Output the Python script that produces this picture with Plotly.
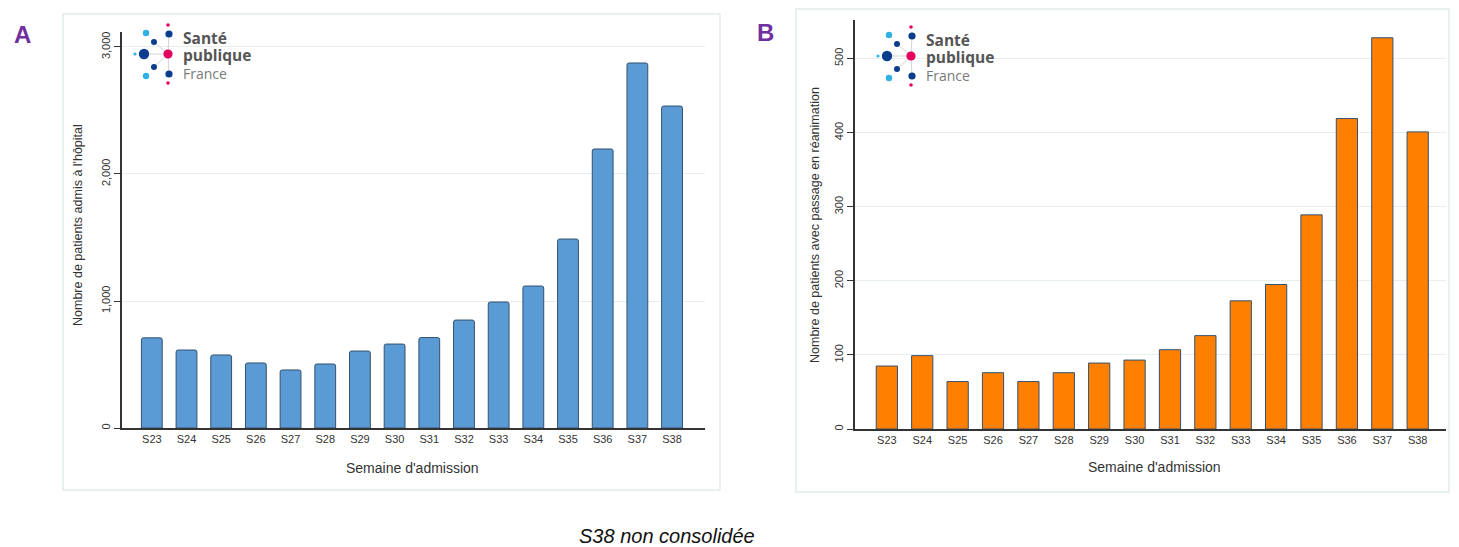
"""Weekly hospital and ICU admissions, two bar panels side by side."""

import plotly.graph_objects as go

# the page body has an 8px margin, so everything is placed 8px up/left
OFF = 8
W, H = 1459, 547 - OFF

weeks = ["S23", "S24", "S25", "S26", "S27", "S28", "S29", "S30",
         "S31", "S32", "S33", "S34", "S35", "S36", "S37", "S38"]
hospital = [710, 614, 575, 512, 457, 504, 606, 661,
            712, 850, 992, 1118, 1488, 2197, 2874, 2535]
icu = [85, 99, 64, 76, 64, 76, 89, 93,
       107, 126, 173, 195, 289, 419, 528, 401]

FONT = "Liberation Sans, Arial, sans-serif"
GRID = "#E6EEF0"
AXIS = "#333333"
EDGE = "#34506E"


def px_x(x):
    return (x - OFF) / W


def px_y(y):
    return 1 - (y - OFF) / H


def add_logo(fig, cx, cy):
    """Draw the Santé publique France mark around the pink centre dot (pixels)."""
    dark, pink, light = "#0B3D8F", "#E5005F", "#2EB2E6"
    dots = [
        (-22, -21, 3.2, light), (1, -20, 3.6, dark), (0, -29, 1.8, pink),
        (-14, -12, 3.0, dark), (-24, 0, 5.2, dark), (-33, 0, 1.6, light),
        (0, 0, 4.6, pink), (-14, 13, 3.0, dark), (-22, 22, 3.2, light),
        (1, 20, 3.6, dark), (0, 29, 1.8, pink),
    ]
    for dx, dy in [(1, -20), (1, 20), (-24, 0), (-14, -12), (-14, 13)]:
        fig.add_shape(type="line", xref="paper", yref="paper",
                      x0=px_x(cx), y0=px_y(cy), x1=px_x(cx + dx), y1=px_y(cy + dy),
                      line=dict(color="#D4D4D4", width=1))
    for dx, dy, r, col in dots:
        fig.add_shape(type="circle", xref="paper", yref="paper",
                      x0=px_x(cx + dx - r), x1=px_x(cx + dx + r),
                      y0=px_y(cy + dy + r), y1=px_y(cy + dy - r),
                      fillcolor=col, line=dict(width=0))
    for txt, dy, size, col, bold in [("Santé", -16, 15.5, "#555555", True),
                                     ("publique", 1, 15.5, "#555555", True),
                                     ("France", 19, 14, "#7A7A7A", False)]:
        fig.add_annotation(xref="paper", yref="paper", x=px_x(cx + 13), y=px_y(cy + dy),
                           xanchor="left", yanchor="middle", showarrow=False,
                           text=f"<b>{txt}</b>" if bold else txt,
                           font=dict(family="Open Sans, Roboto, sans-serif", size=size, color=col))


fig = go.Figure()

fig.add_trace(go.Bar(x=weeks, y=hospital, xaxis="x", yaxis="y",
                     marker=dict(color="#5B9BD5", line=dict(color=EDGE, width=1), cornerradius=2),
                     width=0.6, hoverinfo="x+y"))
fig.add_trace(go.Bar(x=weeks, y=icu, xaxis="x2", yaxis="y2",
                     marker=dict(color="#FF8000", line=dict(color=EDGE, width=1)),
                     width=0.6, hoverinfo="x+y"))

xcommon = dict(showgrid=False, zeroline=False, showline=True, linecolor=AXIS, linewidth=1.5,
               ticks="", tickfont=dict(family=FONT, size=11, color=AXIS), fixedrange=True)
ycommon = dict(showgrid=True, gridcolor=GRID, gridwidth=1, zeroline=False, showline=True,
               linecolor=AXIS, linewidth=1.5, ticks="outside", ticklen=6, tickcolor=AXIS,
               tickangle=-90, tickfont=dict(family=FONT, size=11, color=AXIS))

fig.update_layout(
    width=W, height=H,
    margin=dict(l=0, r=0, t=0, b=0),
    paper_bgcolor="white", plot_bgcolor="white",
    showlegend=False,
    font=dict(family=FONT, color=AXIS),
    xaxis=dict(xcommon, domain=[px_x(122), px_x(705)], range=[-0.86, 15.95], anchor="y"),
    yaxis=dict(ycommon, domain=[px_y(428), px_y(32)], range=[0, 3118], anchor="x",
               tickvals=[0, 1000, 2000, 3000], tickformat=",d"),
    xaxis2=dict(xcommon, domain=[px_x(855), px_x(1446)], range=[-0.9, 15.8], anchor="y2"),
    yaxis2=dict(ycommon, domain=[px_y(429), px_y(20)], range=[0, 552], anchor="x2",
                tickvals=[0, 100, 200, 300, 400, 500]),
)

# panel frames
for x0, y0, x1, y1 in [(63, 14, 720, 490), (796, 9, 1449, 492)]:
    fig.add_shape(type="rect", xref="paper", yref="paper",
                  x0=px_x(x0), y0=px_y(y1), x1=px_x(x1), y1=px_y(y0),
                  line=dict(color="#E3EAEA", width=1.5), layer="below")

notes = [
    (px_x(22), px_y(35), "<b>A</b>", 24, "#7030A0", 0),
    (px_x(765), px_y(32), "<b>B</b>", 24, "#7030A0", 0),
    (px_x(412), px_y(468), "Semaine d'admission", 14, AXIS, 0),
    (px_x(1154), px_y(467), "Semaine d'admission", 14, AXIS, 0),
    (px_x(78), px_y(225), "Nombre de patients admis à l'hôpital", 12.5, AXIS, -90),
    (px_x(815), px_y(225), "Nombre de patients avec passage en réanimation", 12.5, AXIS, -90),
    (px_x(667), px_y(536), "<i>S38 non consolidée</i>", 20, "#111111", 0),
]
for x, y, txt, size, col, ang in notes:
    fig.add_annotation(xref="paper", yref="paper", x=x, y=y, text=txt, showarrow=False,
                       xanchor="center", yanchor="middle", textangle=ang,
                       font=dict(family=FONT, size=size, color=col))

add_logo(fig, 168, 54)
add_logo(fig, 911, 56)

fig.write_html("out.html")
